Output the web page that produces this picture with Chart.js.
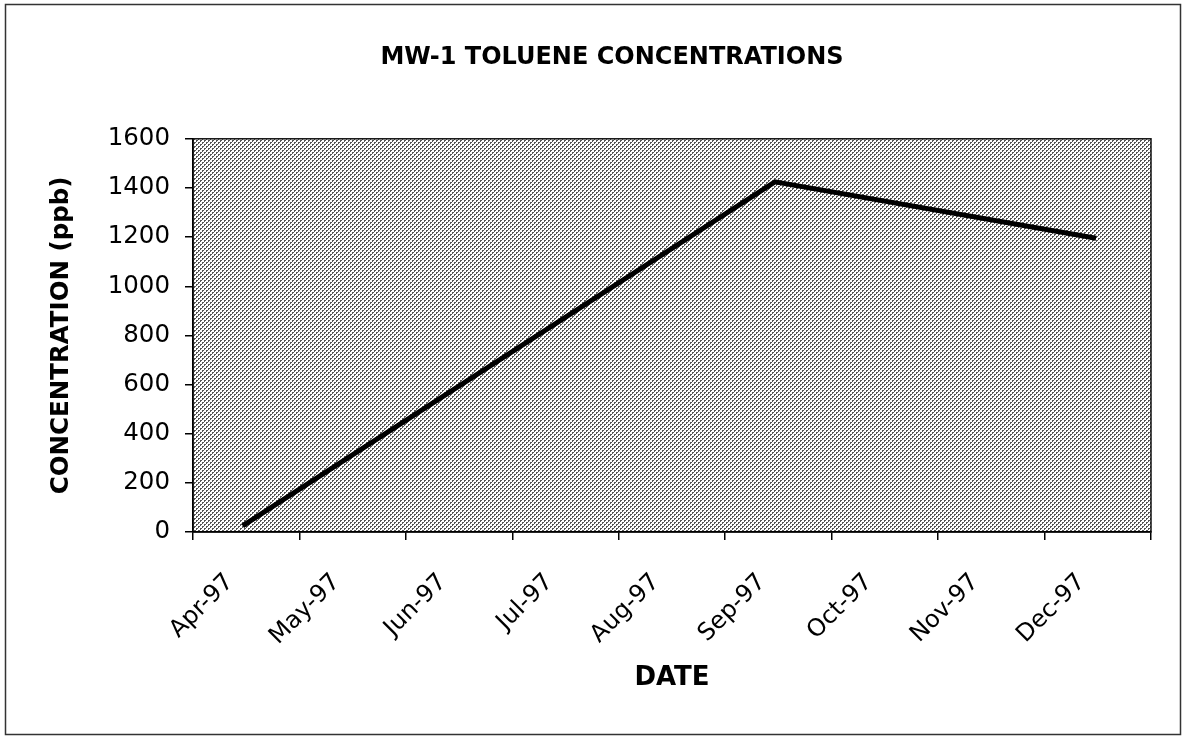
<!DOCTYPE html>
<html>
<head>
<meta charset="utf-8">
<script src="https://cdn.jsdelivr.net/npm/chart.js@4/dist/chart.umd.min.js"></script>
<style>
  html, body { margin: 0; padding: 0; background: #fff; }
  canvas { display: block; }
</style>
</head>
<body>
<canvas id="c" width="1182" height="737"></canvas>
<script>
// ---- data ----
const monthLabels = ['Apr-97', 'May-97', 'Jun-97', 'Jul-97', 'Aug-97', 'Sep-97', 'Oct-97', 'Nov-97', 'Dec-97'];
const sampleDates = ['1997-04-15', '1997-09-15', '1997-12-16'];
const tolueneValues = [25, 1425, 1195];
const yTicks = [0, 200, 400, 600, 800, 1000, 1200, 1400, 1600];

// month index measured from 1 Apr 1997
function monthIndex(s) {
  const [y, m, d] = s.split('-').map(Number);
  const dim = new Date(y, m, 0).getDate();
  return (y - 1997) * 12 + (m - 4) + (d - 1) / dim;
}
const points = sampleDates.map((d, i) => ({ x: monthIndex(d), y: tolueneValues[i] }));

// dotted background pattern
function makePattern(ctx) {
  const t = document.createElement('canvas');
  t.width = 4; t.height = 4;
  const g = t.getContext('2d');
  g.fillStyle = '#ffffff'; g.fillRect(0, 0, 4, 4);
  g.fillStyle = '#555555';
  g.fillRect(0, 0, 2, 1); g.fillRect(0, 1, 1, 1);
  g.fillRect(2, 2, 2, 1); g.fillRect(2, 3, 1, 1);
  return ctx.createPattern(t, 'repeat');
}

const decor = {
  id: 'decor',
  beforeDraw(chart) {
    const { ctx, chartArea: a } = chart;
    ctx.save();
    ctx.fillStyle = '#fff';
    ctx.fillRect(0, 0, chart.width, chart.height);
    ctx.strokeStyle = '#333';
    ctx.lineWidth = 1.5;
    ctx.strokeRect(5.5, 4.5, 1175, 730);
    ctx.fillStyle = makePattern(ctx);
    ctx.fillRect(a.left, a.top, a.right - a.left, a.bottom - a.top);
    ctx.strokeStyle = '#111';
    ctx.lineWidth = 1.5;
    ctx.strokeRect(a.left, a.top, a.right - a.left, a.bottom - a.top);
    ctx.restore();
  }
};

const FONT = 'DejaVu Sans';
const PAD_L = 73, PAD_R = 31;

new Chart(document.getElementById('c'), {
  type: 'line',
  data: {
    datasets: [{
      data: points,
      borderColor: '#000',
      borderWidth: 5,
      pointRadius: 0,
      tension: 0,
      fill: false
    }]
  },
  options: {
    responsive: false,
    devicePixelRatio: 1,
    animation: false,
    layout: { padding: { left: PAD_L, right: PAD_R, top: 0, bottom: 0 } },
    plugins: {
      legend: { display: false },
      tooltip: { enabled: false },
      title: {
        display: true,
        text: 'MW-1 TOLUENE CONCENTRATIONS',
        color: '#000',
        font: { family: FONT, size: 24, weight: 'bold' },
        padding: { top: 43, bottom: 67 }
      }
    },
    scales: {
      x: {
        type: 'linear',
        min: 0,
        max: 9,
        afterFit(s) { s.height = 737 - 532; s.paddingLeft = 0; s.paddingRight = 0; },
        ticks: {
          stepSize: 1,
          autoSkip: false,
          maxRotation: 45,
          minRotation: 45,
          labelOffset: 37,
          padding: 28,
          color: '#000',
          font: { family: FONT, size: 24 },
          callback: (v) => monthLabels[v] !== undefined ? monthLabels[v] : ''
        },
        grid: { drawOnChartArea: false, tickLength: 8, color: '#000', lineWidth: 1.5 },
        border: { display: true, color: '#000', width: 1.5 },
        title: {
          display: true,
          text: 'DATE',
          color: '#000',
          font: { family: FONT, size: 26, weight: 'bold' },
          padding: { top: 0, bottom: 43 }
        }
      },
      y: {
        min: 0,
        max: 1600,
        afterFit(s) { s.width = 193 - PAD_L; s.paddingTop = 0; s.paddingBottom = 0; },
        afterBuildTicks(s) { s.ticks = yTicks.map(v => ({ value: v })); },
        ticks: {
          stepSize: 200,
          padding: 15,
          color: '#000',
          font: { family: FONT, size: 24.5 },
          callback: (v) => String(v)
        },
        grid: { drawOnChartArea: false, tickLength: 8, color: '#000', lineWidth: 1.5 },
        border: { display: true, color: '#000', width: 1.5 },
        title: {
          display: true,
          text: 'CONCENTRATION (ppb)',
          color: '#000',
          font: { family: FONT, size: 24.5, weight: 'bold' },
          padding: { top: 62 - PAD_L - 14.7, bottom: 0 }
        }
      }
    }
  },
  plugins: [decor]
});
</script>
</body>
</html>
